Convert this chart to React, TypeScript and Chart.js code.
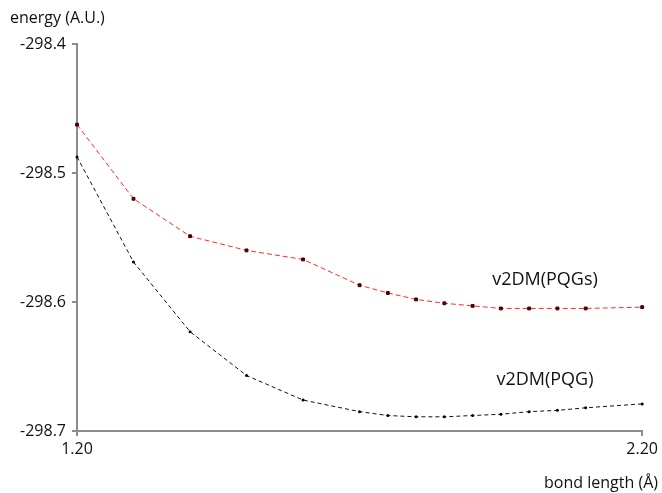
import React, { useEffect, useRef } from "react";
import { Chart, registerables } from "chart.js";

Chart.register(...registerables);

const bondLengths = [1.2, 1.3, 1.4, 1.5, 1.6, 1.7, 1.75, 1.8, 1.85, 1.9, 1.95, 2.0, 2.05, 2.1, 2.2];
const pqgsEnergy = [-298.4625, -298.52, -298.549, -298.56, -298.567, -298.587, -298.593, -298.598, -298.601, -298.603, -298.605, -298.605, -298.605, -298.605, -298.604];
const pqgEnergy = [-298.4875, -298.569, -298.623, -298.657, -298.676, -298.685, -298.688, -298.689, -298.689, -298.688, -298.687, -298.685, -298.684, -298.682, -298.679];
const xTicks = [1.2, 2.2];
const yTicks = [-298.7, -298.6, -298.5, -298.4];
const seriesNames = ["v2DM(PQGs)", "v2DM(PQG)"];
const labelX = [2.028, 2.028];
const labelY = [-298.583, -298.660];
const yTitle = "energy (A.U.)";
const xTitle = "bond length (Å)";

const FONT = "'Open Sans', sans-serif";
const AXIS = "#8c8c8c";

export default function App() {
  const ref = useRef<HTMLCanvasElement | null>(null);
  useEffect(() => {
    if (!ref.current) return;
    const textPlugin = {
      id: "texts",
      afterDraw(chart: any) {
        const ctx = chart.ctx;
        const xs = chart.scales.x;
        const ys = chart.scales.y;
        ctx.save();
        ctx.fillStyle = "#111";
        ctx.font = `16px ${FONT}`;
        ctx.textBaseline = "middle";
        ctx.textAlign = "left";
        ctx.fillText(yTitle, 10, 18);
        ctx.textAlign = "right";
        ctx.fillText(xTitle, 658, 483);
        ctx.font = `18px ${FONT}`;
        ctx.textAlign = "center";
        for (let i = 0; i < seriesNames.length; i++) {
          ctx.fillText(seriesNames[i], xs.getPixelForValue(labelX[i]), ys.getPixelForValue(labelY[i]));
        }
        ctx.restore();
      },
    };
    const chart = new Chart(ref.current, {
      type: "line",
      data: {
        datasets: [
          {
            label: seriesNames[0],
            data: bondLengths.map((x, i) => ({ x, y: pqgsEnergy[i] })),
            borderColor: "#ff2a2a",
            borderWidth: 1,
            borderDash: [5, 3],
            pointStyle: "rect",
            pointRadius: 2,
            pointBackgroundColor: "#5a0000",
            pointBorderColor: "#3a0000",
            pointBorderWidth: 1,
            tension: 0,
          },
          {
            label: seriesNames[1],
            data: bondLengths.map((x, i) => ({ x, y: pqgEnergy[i] })),
            borderColor: "#111",
            borderWidth: 1,
            borderDash: [4, 3],
            pointStyle: "circle",
            pointRadius: 1.5,
            pointBackgroundColor: "#000",
            pointBorderColor: "#000",
            pointBorderWidth: 0,
            tension: 0,
          },
        ],
      },
      options: {
        animation: false,
        responsive: false,
        maintainAspectRatio: false,
        layout: { padding: { top: 44, right: 16, left: 0, bottom: 0 } },
        plugins: { legend: { display: false }, tooltip: { enabled: false } },
        elements: { line: { fill: false } },
        clip: false as any,
        scales: {
          x: {
            type: "linear",
            min: 1.2,
            max: 2.2,
            afterBuildTicks: (s: any) => {
              s.ticks = xTicks.map((v) => ({ value: v }));
            },
            afterFit: (s: any) => {
              s.height = 62;
            },
            ticks: {
              color: "#111",
              font: { family: FONT, size: 16 },
              padding: 4,
              maxRotation: 0,
              callback: (v: any) => Number(v).toFixed(2),
            },
            grid: { drawOnChartArea: false, drawTicks: true, tickLength: 5, color: AXIS, lineWidth: 2 },
            border: { display: true, color: AXIS, width: 2 },
          },
          y: {
            type: "linear",
            min: -298.7,
            max: -298.4,
            afterBuildTicks: (s: any) => {
              s.ticks = yTicks.map((v) => ({ value: v }));
            },
            afterFit: (s: any) => {
              s.width = 77;
            },
            ticks: {
              color: "#111",
              font: { family: FONT, size: 16 },
              padding: 6,
              callback: (v: any) => Number(v).toFixed(1),
            },
            grid: { drawOnChartArea: false, drawTicks: true, tickLength: 5, color: AXIS, lineWidth: 2 },
            border: { display: true, color: AXIS, width: 2 },
          },
        },
      },
      plugins: [textPlugin],
    } as any);
    return () => chart.destroy();
  }, []);
  return (
    <div style={{ position: "fixed", left: 0, top: 0, width: 662, height: 493, background: "#fff" }}>
      <canvas ref={ref} width={662} height={493} style={{ width: 662, height: 493, display: "block" }} />
    </div>
  );
}
